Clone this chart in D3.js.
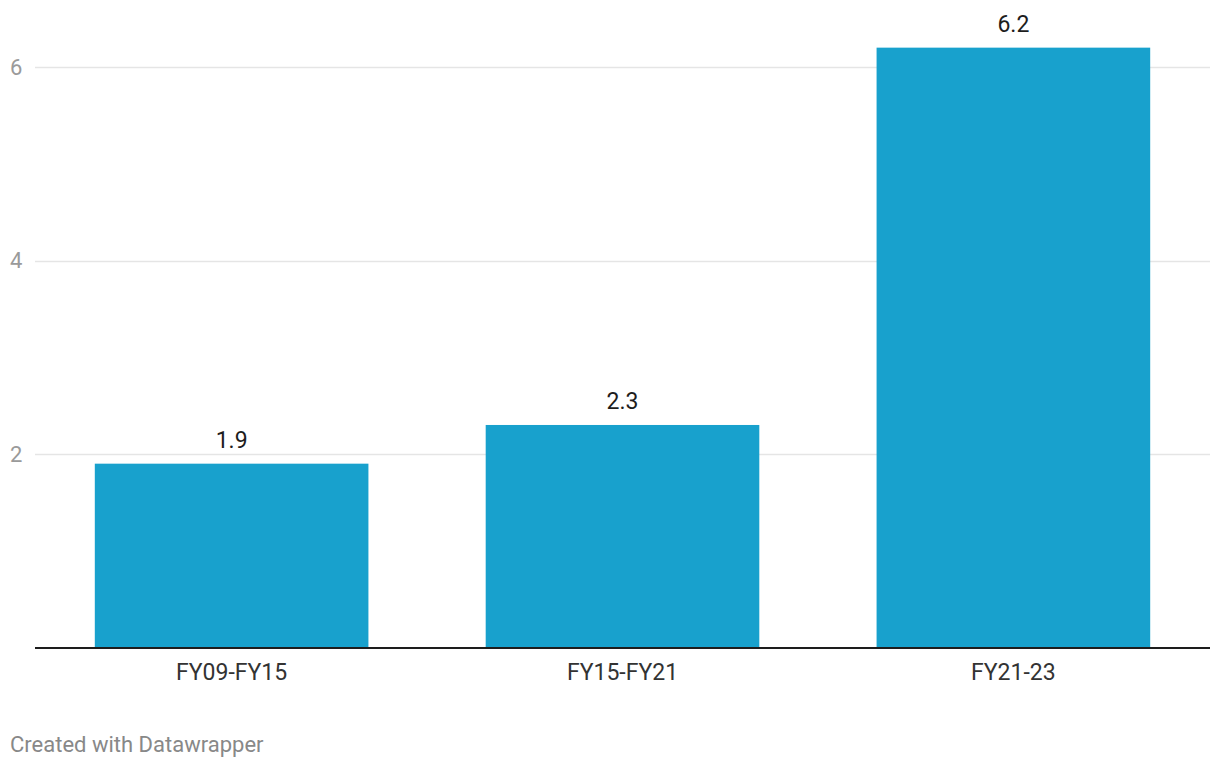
<!DOCTYPE html>
<html>
<head>
<meta charset="utf-8">
<script src="https://cdn.jsdelivr.net/npm/d3@7"></script>
<style>
  body { margin: 0; background: #fff; font-family: Roboto, "Noto Sans", sans-serif; }
  svg { display: block; }
</style>
</head>
<body>
<svg id="chart"></svg>
<script>
/*
    DATA
*/
var categories = ["FY09-FY15", "FY15-FY21", "FY21-23"];
var values = [1.9, 2.3, 6.2];
var yTicks = [2, 4, 6];

/*
    LAYOUT
*/
var width = 1220;
var height = 768;
var plot = {left: 35, right: 1210, top: 67, bottom: 647.5};

var svg = d3.select("#chart")
  .attr("width", width)
  .attr("height", height);

var x = d3.scaleBand()
  .domain(categories)
  .range([plot.left, plot.right])
  .paddingInner(0.3)
  .paddingOuter(0.153);

var y = d3.scaleLinear()
  .domain([0, 6])
  .range([plot.bottom, plot.top]);

// gridlines
svg.append("g")
  .selectAll("line")
  .data(yTicks)
  .enter().append("line")
  .attr("x1", plot.left)
  .attr("x2", plot.right)
  .attr("y1", function(d) { return Math.round(y(d)) + 0.5; })
  .attr("y2", function(d) { return Math.round(y(d)) + 0.5; })
  .style("stroke", "#e5e5e5")
  .style("stroke-width", 1.5);

// y tick labels
svg.append("g")
  .selectAll("text")
  .data(yTicks)
  .enter().append("text")
  .attr("x", 10)
  .attr("y", function(d) { return y(d); })
  .attr("dy", "0.35em")
  .style("font-size", "22px")
  .style("fill", "#9a9a9a")
  .text(function(d) { return d; });

// bars
svg.append("g")
  .selectAll("rect")
  .data(values)
  .enter().append("rect")
  .attr("x", function(d, i) { return x(categories[i]); })
  .attr("width", x.bandwidth())
  .attr("y", function(d) { return y(d); })
  .attr("height", function(d) { return y(0) - y(d); })
  .style("fill", "#18a1cd");

// value labels
svg.append("g")
  .selectAll("text")
  .data(values)
  .enter().append("text")
  .attr("x", function(d, i) { return x(categories[i]) + x.bandwidth() / 2; })
  .attr("y", function(d) { return y(d) - 16; })
  .style("text-anchor", "middle")
  .style("font-size", "23px")
  .style("fill", "#1d1d1d")
  .text(function(d) { return d.toFixed(1); });

// baseline
svg.append("line")
  .attr("x1", plot.left)
  .attr("x2", plot.right)
  .attr("y1", y(0) + 0.5)
  .attr("y2", y(0) + 0.5)
  .style("stroke", "#1d1d1d")
  .style("stroke-width", 2);

// x axis labels
svg.append("g")
  .selectAll("text")
  .data(categories)
  .enter().append("text")
  .attr("x", function(d) { return x(d) + x.bandwidth() / 2; })
  .attr("y", 680)
  .style("text-anchor", "middle")
  .style("font-size", "23px")
  .style("fill", "#333")
  .text(function(d) { return d; });

// footer
svg.append("text")
  .attr("x", 10)
  .attr("y", 752)
  .style("font-size", "22px")
  .style("fill", "#888")
  .text("Created with Datawrapper");
</script>
</body>
</html>
